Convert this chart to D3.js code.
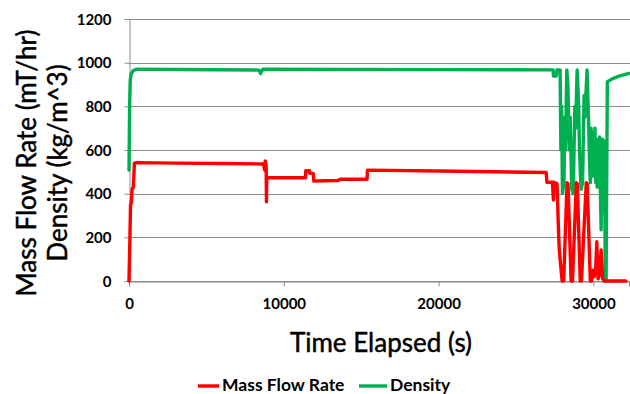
<!DOCTYPE html>
<html>
<head>
<meta charset="utf-8">
<script src="https://cdn.jsdelivr.net/npm/d3@7"></script>
<style>
  html, body { margin: 0; padding: 0; background: #fff; }
  svg { display: block; }
  text { font-family: Lato, "Open Sans", "Liberation Sans", sans-serif; font-weight: bold; fill: #000; }
</style>
</head>
<body>
<svg id="chart" width="630" height="394"></svg>
<script>
// ---- Data ----
const yTicks = [0, 200, 400, 600, 800, 1000, 1200];
const xTicks = [0, 10000, 20000, 30000];
const seriesNames = ["Mass Flow Rate", "Density"];

const massTime = [0, 60, 100, 150, 200, 280, 350, 500, 3000, 6000, 8700, 8760, 8800, 8860, 8880, 8900,
  11400, 11420, 11650, 11680, 11900, 11940, 13500, 13650, 15380, 15400, 20000, 26950, 27000, 27350, 27420, 27450,
  27650, 27760, 27800, 27900, 27980, 28080, 28300, 28360, 28560, 28650, 28900, 28960, 29150, 29230, 29540, 29600,
  29800, 29880, 29950, 30050, 30150, 30220, 30300, 30400, 30500, 30600, 30710, 32100];
const massValue = [0, 200, 350, 360, 420, 430, 540, 542, 540, 538, 536, 508, 550, 530, 363, 473,
  473, 505, 505, 493, 493, 458, 460, 466, 466, 508, 504, 497, 452, 452, 371, 452,
  445, 200, 140, 60, 0, 0, 450, 445, 0, 0, 450, 445, 0, 0, 450, 445,
  0, 0, 50, 20, 60, 180, 10, 30, 142, 10, 0, 0];

const densTime = [0, 40, 80, 150, 300, 500, 3000, 8400, 8500, 8560, 8650, 20000, 27400, 27420, 27600, 27650,
  27800, 27850, 27900, 27950, 28000, 28100, 28150, 28200, 28280, 28350, 28450, 28500, 28600, 28700, 28800, 28850,
  28950, 29050, 29100, 29200, 29300, 29400, 29450, 29590, 29700, 29750, 29800, 29850, 29900, 29950, 30000, 30050,
  30100, 30150, 30200, 30250, 30300, 30350, 30400, 30450, 30500, 30550, 30600, 30650, 30720, 30770, 30820,
  30900, 31200, 31600, 32000, 32300];
const densValue = [508, 800, 920, 950, 965, 970, 969, 966, 950, 960, 970, 968, 967, 939, 939, 967,
  967, 967, 600, 800, 402, 450, 750, 600, 967, 900, 600, 750, 420, 400, 800, 700,
  967, 800, 600, 420, 450, 850, 750, 967, 700, 550, 450, 700, 600, 480, 680, 500,
  700, 450, 650, 430, 620, 440, 660, 420, 234, 450, 650, 430, 640, 0, 0,
  913, 925, 937, 945, 951];

// ---- Chart ----
const svg = d3.select("#chart");
const pLeft = 129, pRight = 629, pTop = 19, pBottom = 281;

const x = d3.scaleLinear().domain([0, 32300]).range([pLeft, pRight]);
const y = d3.scaleLinear().domain([0, 1200]).range([pBottom, pTop]);

// horizontal gridlines
svg.append("g")
  .selectAll("line")
  .data(yTicks)
  .join("line")
  .attr("x1", pLeft).attr("x2", pRight + 1)
  .attr("y1", d => Math.round(y(d)) + 0.5).attr("y2", d => Math.round(y(d)) + 0.5)
  .attr("stroke", "#8c8c8c").attr("stroke-width", 1);

// y axis
const yAxis = svg.append("g")
  .attr("transform", `translate(${pLeft + 0.5},0)`)
  .call(d3.axisLeft(y).tickValues(yTicks).tickSize(5).tickPadding(13).tickFormat(d3.format("d")));
yAxis.select(".domain").attr("stroke", "#8c8c8c");
yAxis.selectAll(".tick line").attr("stroke", "#8c8c8c");
yAxis.selectAll(".tick text").style("font-size", "15px").attr("dy", "0.35em");

// x axis
const xAxis = svg.append("g")
  .attr("transform", `translate(0,${Math.round(y(0)) + 0.5})`)
  .call(d3.axisBottom(x).tickValues(xTicks).tickSize(5).tickPadding(12).tickFormat(d3.format("d")));
xAxis.select(".domain").attr("stroke", "#8c8c8c");
xAxis.selectAll(".tick line").attr("stroke", "#8c8c8c");
xAxis.selectAll(".tick text").style("font-size", "15px");

// lines
const massData = massTime.map((t, i) => [t, massValue[i]]);
const densData = densTime.map((t, i) => [t, densValue[i]]);
const line = d3.line().x(d => x(d[0])).y(d => y(d[1]));

svg.append("path").datum(densData)
  .attr("d", line).attr("fill", "none")
  .attr("stroke", "#00b050").attr("stroke-width", 3.4)
  .attr("stroke-linejoin", "round").attr("stroke-linecap", "round");

svg.append("path").datum(massData)
  .attr("d", line).attr("fill", "none")
  .attr("stroke", "#ff0000").attr("stroke-width", 3.4)
  .attr("stroke-linejoin", "round").attr("stroke-linecap", "round");

// axis titles
const titleStyle = sel => sel
  .attr("text-anchor", "middle")
  .style("font-size", "26px").style("font-weight", "normal")
  .attr("stroke", "#000").attr("stroke-width", 0.45);

svg.append("text")
  .attr("transform", "translate(36,163) rotate(-90)")
  .call(titleStyle)
  .text("Mass Flow Rate (mT/hr)");
svg.append("text")
  .attr("transform", "translate(67,163) rotate(-90)")
  .call(titleStyle)
  .text("Density (kg/m^3)");

svg.append("text")
  .attr("x", 381).attr("y", 352)
  .call(titleStyle)
  .text("Time Elapsed (s)");

// legend
const legend = [
  { name: seriesNames[0], color: "#ff0000", x1: 198, x2: 219, tx: 222 },
  { name: seriesNames[1], color: "#00b050", x1: 359, x2: 387, tx: 390 }
];
legend.forEach(l => {
  svg.append("line")
    .attr("x1", l.x1).attr("x2", l.x2).attr("y1", 386).attr("y2", 386)
    .attr("stroke", l.color).attr("stroke-width", 3.4);
  svg.append("text")
    .attr("x", l.tx).attr("y", 391)
    .style("font-size", "17.5px")
    .text(l.name);
});
</script>
</body>
</html>
